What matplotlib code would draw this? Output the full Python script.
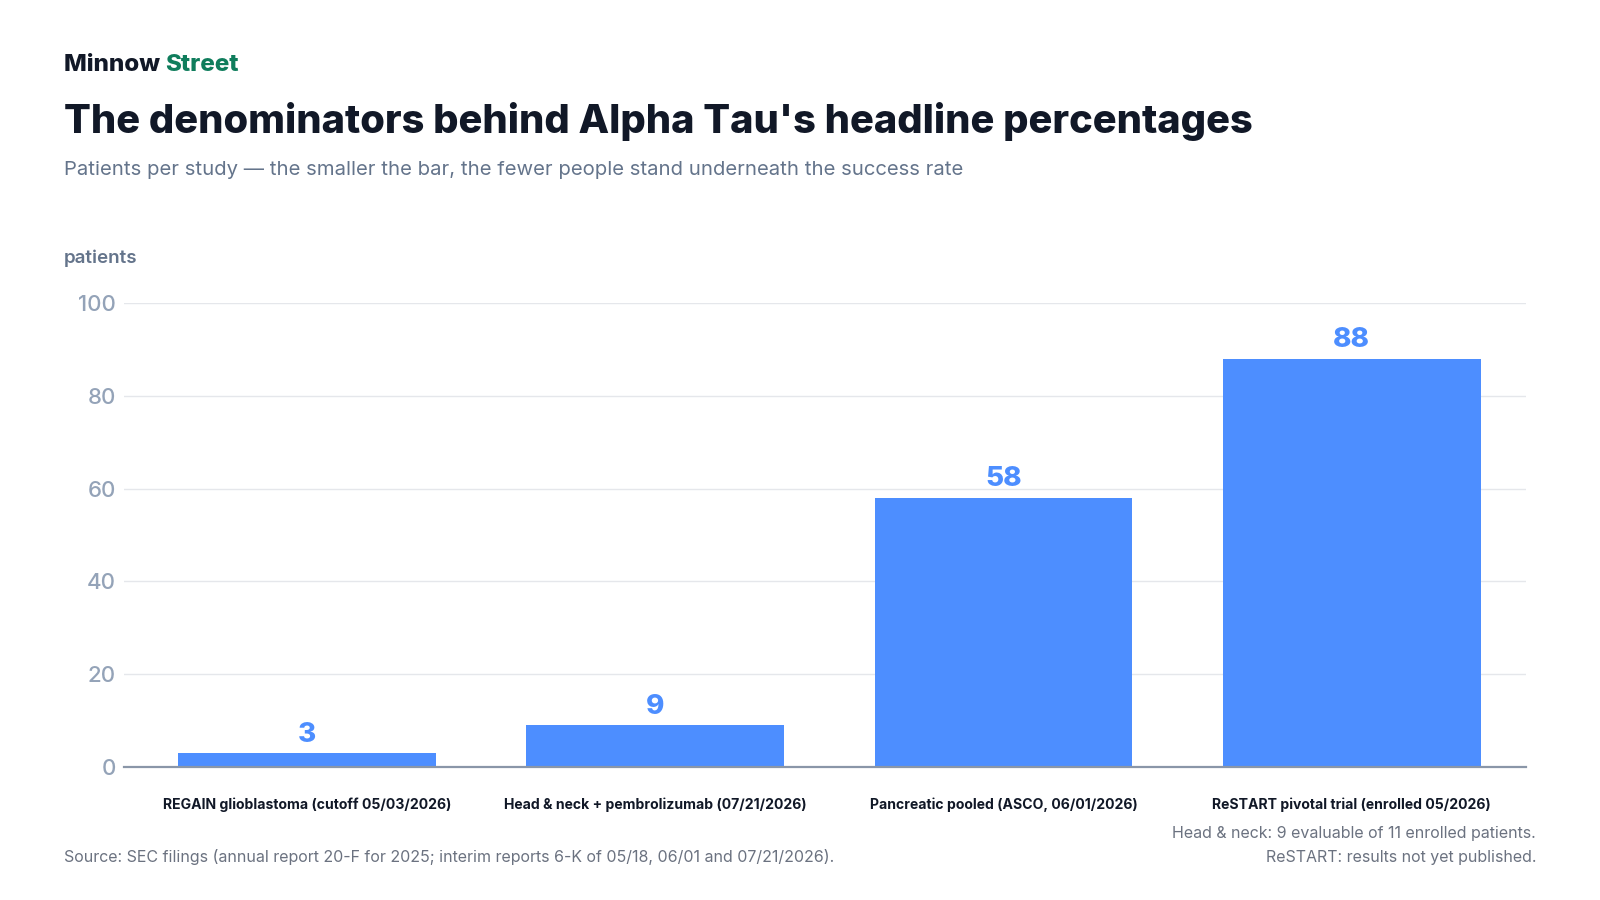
import matplotlib
matplotlib.use("Agg")
import matplotlib.pyplot as plt

plt.rcParams['font.family'] = ['Inter', 'DejaVu Sans']

studies = ["REGAIN glioblastoma (cutoff 05/03/2026)",
           "Head & neck + pembrolizumab (07/21/2026)",
           "Pancreatic pooled (ASCO, 06/01/2026)",
           "ReSTART pivotal trial (enrolled 05/2026)"]
patients = [3, 9, 58, 88]
yticks = [0, 20, 40, 60, 80, 100]

BLUE = "#4d8eff"
INK = "#111827"
GRAY = "#64748b"
LIGHT = "#94a3b8"

W, H = 1600, 900
fig = plt.figure(figsize=(16, 9), dpi=100)

def fx(px):
    return px / W

def fy(py):
    return 1 - py / H

ax = fig.add_axes([fx(124), fy(767), fx(1526 - 124), (767 - 303) / H])

x = range(len(studies))
ax.bar(x, patients, width=0.74, color=BLUE, zorder=3)
for i, v in enumerate(patients):
    ax.annotate(str(v), (i, v), xytext=(0, 4), textcoords="offset points",
                ha="center", va="bottom", fontsize=20, fontweight="heavy",
                color=BLUE)

ax.set_xlim(-0.525, 3.5)
ax.set_ylim(0, 100)
ax.set_yticks(yticks)
ax.set_xticks(list(x))
ax.set_xticklabels(studies, fontsize=10.1, fontweight="bold", color=INK)
ax.tick_params(axis="x", length=0, pad=22)
ax.tick_params(axis="y", length=0, pad=6, labelsize=16, labelcolor=LIGHT)
for lab in ax.get_yticklabels():
    lab.set_fontweight("medium")
ax.grid(axis="y", color="#e5e7eb", linewidth=1, zorder=0)
for s in ["top", "right", "left"]:
    ax.spines[s].set_visible(False)
ax.spines["bottom"].set_color("#8a96a8")
ax.spines["bottom"].set_linewidth(1.6)
ax.spines["bottom"].set_zorder(4)

# header
t1 = fig.text(fx(64), fy(71), "Minnow ", fontsize=17.4, fontweight="heavy",
              color=INK, va="baseline")
fig.canvas.draw()
bb = t1.get_window_extent()
fig.text(bb.x1 / W, fy(71), "Street", fontsize=17.4, fontweight="heavy",
         color="#0f7d5c", va="baseline")
fig.text(fx(64), fy(133), "The denominators behind Alpha Tau's headline percentages",
         fontsize=28.7, fontweight="heavy", color=INK, va="baseline")
fig.text(fx(64), fy(175),
         "Patients per study \u2014 the smaller the bar, the fewer people stand underneath the success rate",
         fontsize=14.6, color=GRAY, va="baseline")
fig.text(fx(64), fy(263), "patients", fontsize=13.5, fontweight="semibold",
         color=GRAY, va="baseline")

# footer
fig.text(fx(64), fy(862),
         "Source: SEC filings (annual report 20-F for 2025; interim reports 6-K of 05/18, 06/01 and 07/21/2026).",
         fontsize=11.5, color="#6b7280", va="baseline")
fig.text(fx(1536), fy(838), "Head & neck: 9 evaluable of 11 enrolled patients.",
         fontsize=11.5, color="#6b7280", va="baseline", ha="right")
fig.text(fx(1536), fy(862), "ReSTART: results not yet published.",
         fontsize=11.5, color="#6b7280", va="baseline", ha="right")

fig.savefig("out.png", dpi=100, facecolor="white")
